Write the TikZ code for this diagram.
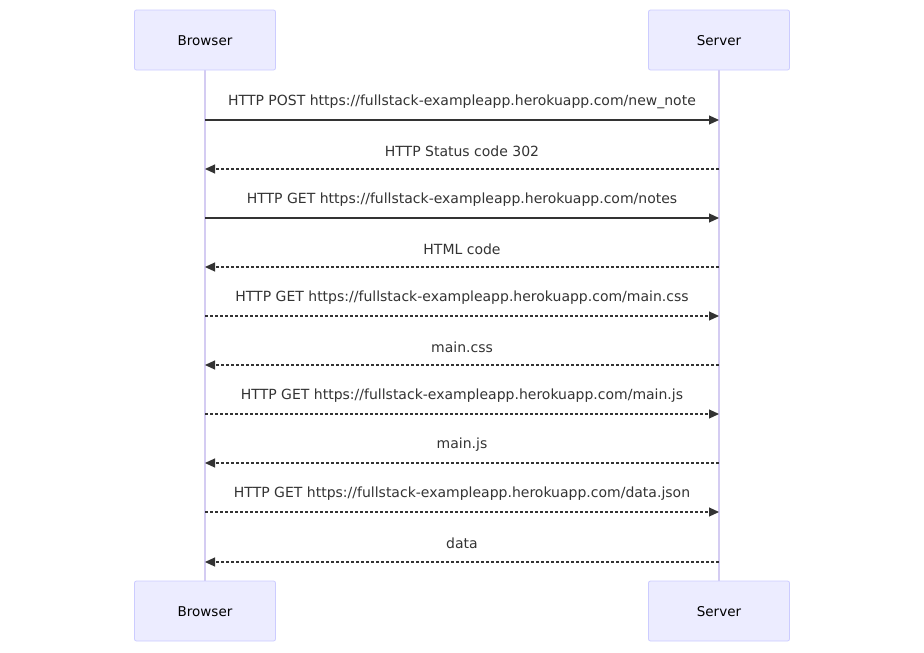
\documentclass[tikz,border=0pt]{standalone}
\usepackage{fontspec}
\setmainfont{DejaVu Sans}
\usetikzlibrary{arrows.meta}
\definecolor{boxfill}{HTML}{ECECFF}
\definecolor{boxdraw}{HTML}{CCCCFF}
\definecolor{life}{HTML}{D4CCF2}
\definecolor{msg}{HTML}{333333}
\begin{document}
\begin{tikzpicture}[x=1pt,y=-1pt,
  actor/.style={draw=boxdraw,fill=boxfill,rounded corners=2pt,line width=0.8pt,minimum width=141pt,minimum height=60pt,inner sep=0pt,font=\fontsize{13.5}{16}\selectfont,text=black,text height=10pt,text depth=0pt},
  lifeline/.style={draw=life,line width=1.2pt},
  call/.style={draw=msg,line width=1.1pt,-{Triangle[length=10pt,width=9pt]}},
  reply/.style={call,dash pattern=on 3pt off 2pt},
  lbl/.style={font=\fontsize{14}{16}\selectfont,text=msg,inner sep=0pt}]
\useasboundingbox (0,0) rectangle (924,653);
\path[lifeline] (205,40) -- (205,611);
\path[lifeline] (719,40) -- (719,611);
\node[actor] (b1) at (205,40) {Browser};
\node[actor] (s1) at (719,40) {Server};
\node[actor] (b2) at (205,611) {Browser};
\node[actor] (s2) at (719,611) {Server};
\foreach \i/\y in {1/120,2/169,3/218,4/267,5/316,6/365,7/414,8/463,9/512,10/562}{
  \coordinate (bl\i) at (205,\y);
  \coordinate (sl\i) at (719,\y);
}
\draw[call] (bl1) -- (sl1);
\draw[reply] (sl2) -- (bl2);
\draw[call] (bl3) -- (sl3);
\draw[reply] (sl4) -- (bl4);
\draw[reply] (bl5) -- (sl5);
\draw[reply] (sl6) -- (bl6);
\draw[reply] (bl7) -- (sl7);
\draw[reply] (sl8) -- (bl8);
\draw[reply] (bl9) -- (sl9);
\draw[reply] (sl10) -- (bl10);
\node[lbl] (m1) at (462,102) {HTTP POST https://fullstack-exampleapp.herokuapp.com/new\_note};
\node[lbl] (m2) at (462,151) {HTTP Status code 302};
\node[lbl] (m3) at (462,200) {HTTP GET https://fullstack-exampleapp.herokuapp.com/notes};
\node[lbl] (m4) at (462,249) {HTML code};
\node[lbl] (m5) at (462,298) {HTTP GET https://fullstack-exampleapp.herokuapp.com/main.css};
\node[lbl] (m6) at (462,347) {main.css};
\node[lbl] (m7) at (462,396) {HTTP GET https://fullstack-exampleapp.herokuapp.com/main.js};
\node[lbl] (m8) at (462,445) {main.js};
\node[lbl] (m9) at (462,494) {HTTP GET https://fullstack-exampleapp.herokuapp.com/data.json};
\node[lbl] (m10) at (462,543) {data};
\end{tikzpicture}
\end{document}
